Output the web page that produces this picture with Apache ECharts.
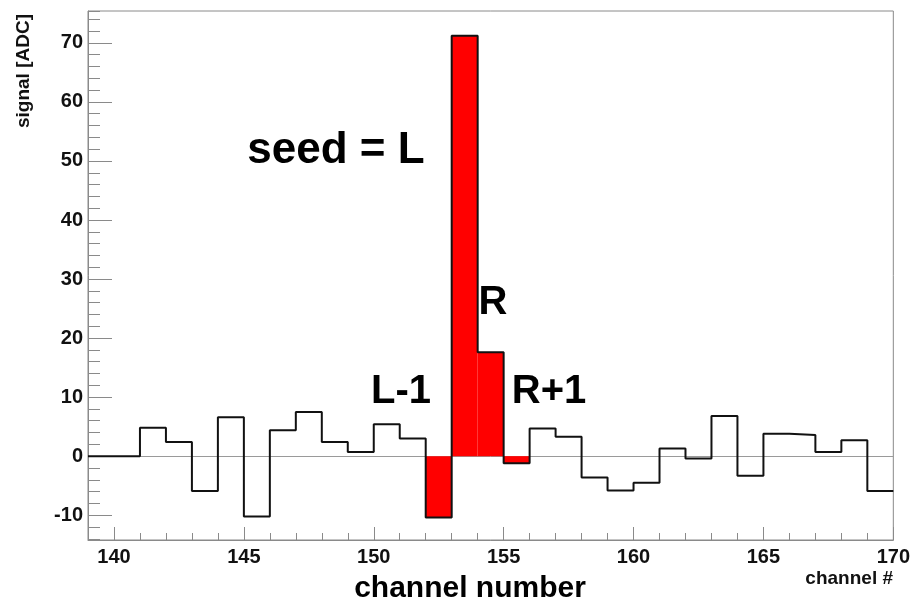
<!DOCTYPE html>
<html>
<head>
<meta charset="utf-8">
<script src="https://cdn.jsdelivr.net/npm/echarts@6/dist/echarts.min.js"></script>
<style>
  html, body { margin: 0; padding: 0; background: #fff; }
  #chart { width: 913px; height: 603px; }
</style>
</head>
<body>
<div id="chart"></div>
<script>
// Left edge of each readout channel bin (bin width = 1 channel)
const channels = [139, 140, 141, 142, 143, 144, 145, 146, 147, 148, 149, 150, 151, 152, 153, 154,
                  155, 156, 157, 158, 159, 160, 161, 162, 163, 164, 165, 166, 167, 168, 169];
// Pedestal-subtracted signal per channel [ADC]
const signal = [0, 0, 4.8, 2.4, -5.9, 6.6, -10.2, 4.4, 7.5, 2.4, 0.7, 5.4, 3.0, -10.4, 71.2, 17.6,
                -1.2, 4.7, 3.3, -3.6, -5.8, -4.5, 1.3, -0.4, 6.8, -3.3, 3.8, 3.6, 0.7, 2.7, -5.9];
// Channels belonging to the cluster (L-1, L, R, R+1)
const clusterChannels = [152, 153, 154, 155];

const xRange = [139, 170];
const yRange = [-14.2, 75.4];

// Step outline: one point per bin edge, last bin closed at the upper edge
const stepData = channels.map((c, i) => [c, signal[i]]);
stepData.push([channels[channels.length - 1] + 1, signal[signal.length - 1]]);

// Cluster bins: [low edge, high edge, value]
const clusterData = clusterChannels.map(c => [c, c + 1, signal[channels.indexOf(c)]]);

const AXIS_GREY = '#8a8a8a';
const LABEL_FONT = 'Liberation Sans, Arial, Helvetica, sans-serif';

const chart = echarts.init(document.getElementById('chart'), null, { renderer: 'canvas' });

const option = {
  backgroundColor: '#ffffff',
  animation: false,
  grid: {
    left: 88, right: 18, top: 11, bottom: 63,
    show: true, borderColor: AXIS_GREY, borderWidth: 1, backgroundColor: '#ffffff'
  },
  xAxis: [
    {
      type: 'value', min: xRange[0], max: xRange[1], splitNumber: 6,
      position: 'bottom',
      axisLine: { show: true, onZero: false, lineStyle: { color: AXIS_GREY, width: 1 } },
      axisTick: { show: true, inside: true, length: 13, lineStyle: { color: AXIS_GREY, width: 1 } },
      axisLabel: {
        show: true, margin: 7, color: '#111', fontSize: 20, fontWeight: 'bold',
        fontFamily: LABEL_FONT, showMinLabel: false, showMaxLabel: true
      },
      splitLine: { show: false }
    },
    {
      type: 'value', min: xRange[0], max: xRange[1], splitNumber: 31,
      position: 'bottom',
      axisLine: { show: false, onZero: false },
      axisTick: { show: true, inside: true, length: 7, lineStyle: { color: AXIS_GREY, width: 1 } },
      axisLabel: { show: false },
      splitLine: { show: false }
    }
  ],
  yAxis: [
    {
      type: 'value', min: yRange[0], max: yRange[1], splitNumber: 9,
      position: 'left',
      axisLine: { show: true, onZero: false, lineStyle: { color: AXIS_GREY, width: 1 } },
      axisTick: { show: true, inside: true, length: 24, lineStyle: { color: AXIS_GREY, width: 1 } },
      axisLabel: {
        show: true, margin: 5, color: '#111', fontSize: 20, fontWeight: 'bold',
        fontFamily: LABEL_FONT, showMinLabel: false, showMaxLabel: false
      },
      splitLine: { show: false }
    },
    {
      type: 'value', min: yRange[0], max: yRange[1], splitNumber: 45,
      position: 'left',
      axisLine: { show: false, onZero: false },
      axisTick: { show: true, inside: true, length: 12, lineStyle: { color: AXIS_GREY, width: 1 } },
      axisLabel: { show: false },
      splitLine: { show: false }
    }
  ],
  series: [
    {
      // filled cluster bins
      type: 'custom',
      xAxisIndex: 0, yAxisIndex: 0,
      z: 2,
      data: clusterData,
      renderItem: function (params, api) {
        const p0 = api.coord([api.value(0), 0]);
        const p1 = api.coord([api.value(1), api.value(2)]);
        return {
          type: 'rect',
          shape: {
            x: Math.min(p0[0], p1[0]),
            y: Math.min(p0[1], p1[1]),
            width: Math.abs(p1[0] - p0[0]),
            height: Math.abs(p1[1] - p0[1])
          },
          style: { fill: '#ff0000' }
        };
      }
    },
    {
      // histogram outline
      type: 'line',
      xAxisIndex: 0, yAxisIndex: 0,
      step: 'end',
      z: 4,
      symbol: 'none',
      data: stepData,
      lineStyle: { color: '#111', width: 2 },
      markLine: {
        silent: true,
        symbol: ['none', 'none'],
        label: { show: false },
        lineStyle: { color: '#9a9a9a', width: 1, type: 'solid' },
        z: 1,
        data: [{ yAxis: 0 }]
      }
    }
  ],
  graphic: [
    {
      type: 'text', x: 24, y: 71, rotation: Math.PI / 2,
      style: {
        text: 'signal [ADC]', fill: '#111', align: 'center', verticalAlign: 'middle',
        font: 'bold 19px ' + LABEL_FONT
      }
    },
    {
      type: 'text', x: 893, y: 579,
      style: {
        text: 'channel #', fill: '#111', align: 'right', verticalAlign: 'middle',
        font: 'bold 19px ' + LABEL_FONT
      }
    },
    {
      type: 'text', x: 470, y: 589,
      style: {
        text: 'channel number', fill: '#000', align: 'center', verticalAlign: 'middle',
        font: 'bold 30px ' + LABEL_FONT
      }
    },
    {
      type: 'text', x: 336, y: 151,
      style: {
        text: 'seed = L', fill: '#000', align: 'center', verticalAlign: 'middle',
        font: 'bold 44px ' + LABEL_FONT
      }
    },
    {
      type: 'text', x: 493, y: 303,
      style: {
        text: 'R', fill: '#000', align: 'center', verticalAlign: 'middle',
        font: 'bold 40px ' + LABEL_FONT
      }
    },
    {
      type: 'text', x: 549, y: 392,
      style: {
        text: 'R+1', fill: '#000', align: 'center', verticalAlign: 'middle',
        font: 'bold 40px ' + LABEL_FONT
      }
    },
    {
      type: 'text', x: 401, y: 392,
      style: {
        text: 'L-1', fill: '#000', align: 'center', verticalAlign: 'middle',
        font: 'bold 40px ' + LABEL_FONT
      }
    }
  ]
};

chart.setOption(option);
</script>
</body>
</html>
